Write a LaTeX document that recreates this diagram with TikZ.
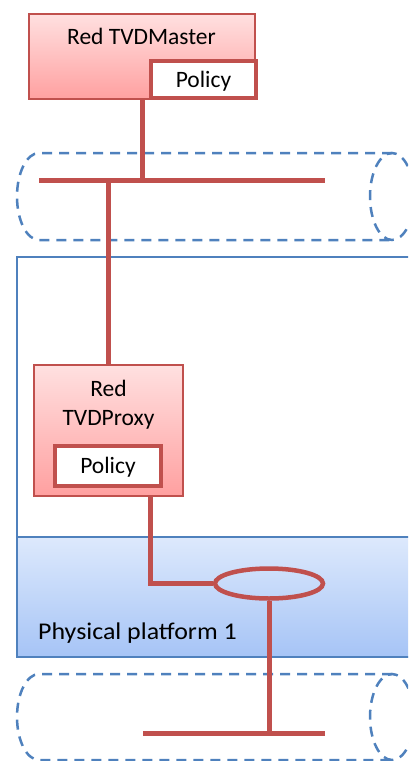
\documentclass[tikz,border=0pt]{standalone}
\usepackage{fontspec}
\setmainfont{Carlito}
\usetikzlibrary{shapes.geometric}

\definecolor{linkred}{RGB}{192,80,77}
\definecolor{frameblue}{RGB}{79,129,189}
\definecolor{boxtop}{RGB}{255,224,224}
\definecolor{boxbot}{RGB}{255,160,160}
\definecolor{platop}{RGB}{221,233,252}
\definecolor{platbot}{RGB}{166,196,246}

\tikzset{
  redline/.style={draw=linkred, line width=5pt},
  netpipe/.style={draw=frameblue, line width=2.5pt, dash pattern=on 10pt off 7pt},
  framebox/.style={draw=frameblue, line width=2.5pt},
  tvdbox/.style={rectangle, draw=linkred, line width=2.5pt, top color=boxtop, bottom color=boxbot, inner sep=0pt},
  capcentred/.style={text height=15.1pt, text depth=0pt},
  policybox/.style={rectangle, draw=linkred, line width=4.5pt, fill=white, inner sep=0pt, capcentred, font=\fontsize{23.5}{28}\selectfont},
  lbl/.style={inner sep=0pt, capcentred, font=\fontsize{23.5}{28}\selectfont},
  platlbl/.style={inner sep=0pt, text height=15.5pt, text depth=0pt, font=\fontsize{24}{28}\selectfont}
}
\tikzset{
  switchring/.style={ellipse, draw=linkred, line width=4.5pt, inner sep=0pt}
}

\begin{document}
\begin{tikzpicture}[x=1pt, y=-1pt]
\useasboundingbox (0,0) rectangle (408,761);
\clip (0,0) rectangle (408,761);

% upper network pipe
\draw[netpipe] (392,153) -- (39,153) arc[start angle=270, end angle=90, x radius=22, y radius=43.5] -- (392,240);
\draw[netpipe] (392,196.5) ellipse[x radius=22, y radius=43.5];

% lower network pipe
\draw[netpipe] (392,674) -- (39,674) arc[start angle=270, end angle=90, x radius=22, y radius=43] -- (392,760);
\draw[netpipe] (392,717) ellipse[x radius=22, y radius=43];

% physical platform
\shade[top color=platop, bottom color=platbot] (17,537) rectangle (440,657);
\draw[framebox] (17,257) rectangle (440,657);
\draw[framebox] (17,537) -- (440,537);
\node[platlbl, anchor=west] (plat) at (38,631.5) {\scalebox{1.08}[1]{Physical platform 1}};

% master and proxy
\node[tvdbox, minimum width=226pt, minimum height=85pt] (master) at (142,56.5) {};
\node[lbl] (mtitle) at (141.5,37) {Red TVDMaster};
\node[policybox, minimum width=105pt, minimum height=37pt] (mpol) at (203.5,79.5) {Policy};

\node[tvdbox, minimum width=149pt, minimum height=131pt] (proxy) at (108.5,430.5) {};
\node[lbl] (ptitle1) at (108.5,389) {Red};
\node[lbl] (ptitle2) at (108.5,418) {TVDProxy};
\node[policybox, minimum width=106pt, minimum height=40pt] (ppol) at (108,466) {Policy};

% virtual switch
\node[switchring, minimum width=108pt, minimum height=30pt] (sw) at (269,583.5) {};

% links
\coordinate (busL) at (39,180);
\coordinate (busR) at (325,180);
\coordinate (bus2L) at (143,733);
\coordinate (bus2R) at (325,733);
\coordinate (pdrop) at (150,0);

\draw[redline] (busL) -- (busR);
\draw[redline] (master.south) -- (master.south |- busL);
\draw[redline] (proxy.north |- busL) -- (proxy.north);
\draw[redline] (proxy.south -| pdrop) |- (sw.west);
\draw[redline] (bus2L) -- (bus2R);
\draw[redline] (sw.south) -- (sw.south |- bus2L);
\end{tikzpicture}
\end{document}
